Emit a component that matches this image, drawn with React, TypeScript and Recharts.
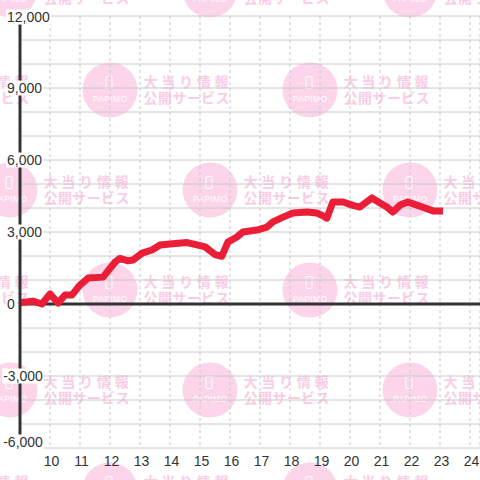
import React from "react";
import {
  LineChart,
  Line,
  XAxis,
  YAxis,
  CartesianGrid,
  ReferenceLine,
} from "recharts";

// hour of day (decimal) and ball difference at that moment
const hours = [
  9.0, 9.43, 9.73, 10.0, 10.27, 10.5, 10.73, 11.0, 11.27, 11.77, 12.17, 12.33,
  12.6, 12.77, 13.07, 13.4, 13.67, 14.0, 14.57, 14.9, 15.17, 15.5, 15.73, 15.93,
  16.23, 16.43, 16.9, 17.23, 17.43, 17.77, 18.1, 18.57, 18.9, 19.1, 19.23, 19.43,
  19.77, 20.07, 20.33, 20.73, 21.0, 21.23, 21.43, 21.67, 21.93, 22.23, 22.5,
  22.77, 23.1,
];
const balls = [
  50, 120, 0, 420, 40, 370, 370, 790, 1080, 1120, 1750, 1900, 1800, 1830, 2120,
  2250, 2460, 2500, 2560, 2460, 2380, 2060, 1990, 2580, 2790, 3000, 3080, 3200,
  3420, 3620, 3790, 3830, 3790, 3670, 3580, 4250, 4250, 4120, 4040, 4420, 4210,
  4040, 3830, 4120, 4250, 4120, 4000, 3880, 3880,
];

const xTicks = [10, 11, 12, 13, 14, 15, 16, 17, 18, 19, 20, 21, 22, 23, 24];
const yTicks = [
  -6000, -5000, -4000, -3000, -2000, -1000, 0, 1000, 2000, 3000, 4000, 5000,
  6000, 7000, 8000, 9000, 10000, 11000, 12000,
];
const labelStep = 3000;

const data = hours.map((h, i) => ({ h, v: balls[i] }));

const FONT = "'Liberation Sans', Arial, sans-serif";

function textWidth(s: string) {
  let w = 0;
  for (const ch of s) w += ch === "," ? 3.9 : ch === "-" ? 4.7 : 7.8;
  return w;
}

function YTick(props: any) {
  const { y, payload } = props;
  const v = payload.value as number;
  if (v % labelStep !== 0) return <g />;
  const label = v.toLocaleString("en-US");
  const w = textWidth(label);
  let cy = y;
  if (v === yTicks[0]) cy = y - 6;
  if (v === yTicks[yTicks.length - 1]) cy = y + 1;
  const x0 = v < 0 ? 43 - w : 7;
  return (
    <g>
      <rect x={x0 - 1} y={cy - 7.5} width={w + 2} height={15} fill="#fff" />
      <text x={x0} y={cy + 5} fontSize={14} fontFamily={FONT} fill="#333">
        {label}
      </text>
    </g>
  );
}

function XTick(props: any) {
  const { x, payload } = props;
  return (
    <text
      x={x + 1.5}
      y={466}
      textAnchor="middle"
      fontSize={14}
      fontFamily={FONT}
      fill="#333"
    >
      {payload.value}
    </text>
  );
}

function Watermark() {
  const marks: { cx: number; cy: number }[] = [];
  for (let r = 0; r < 6; r++) {
    const cy = -10 + r * 100;
    const start = r % 2 === 0 ? 10 : -90;
    for (let c = 0; c < 3; c++) marks.push({ cx: start + c * 200, cy });
  }
  return (
    <svg
      width={480}
      height={480}
      style={{ position: "absolute", left: 0, top: 0 }}
    >
      {marks.map(({ cx, cy }, i) => (
        <g key={i}>
          <circle cx={cx} cy={cy} r={27.5} fill="#fcd5ea" />
          <rect
            x={cx - 4}
            y={cy - 13.5}
            width={6}
            height={12}
            rx={1}
            fill="none"
            stroke="#fff"
            strokeWidth={1}
          />
          <text
            x={cx}
            y={cy + 11.5}
            textAnchor="middle"
            fontSize={8.5}
            fontFamily={FONT}
            fill="#fff"
            textLength={34}
            lengthAdjust="spacing"
          >
            PAPIMO
          </text>
          <text
            x={cx + 33.5}
            y={cy - 3.5}
            fontSize={14}
            fontWeight="bold"
            fontFamily="'Noto Sans CJK JP', sans-serif"
            fill="#f9cde4"
            textLength={85}
            lengthAdjust="spacing"
          >
            大当り情報
          </text>
          <text
            x={cx + 33.5}
            y={cy + 12.5}
            fontSize={14}
            fontWeight="bold"
            fontFamily="'Noto Sans CJK JP', sans-serif"
            fill="#f9cde4"
            textLength={86}
            lengthAdjust="spacing"
          >
            公開サービス
          </text>
        </g>
      ))}
    </svg>
  );
}

export default function App() {
  return (
    <div
      style={{
        position: "absolute",
        left: 0,
        top: 0,
        width: 480,
        height: 480,
        background: "#fff",
        overflow: "hidden",
      }}
    >
      <Watermark />
      <div style={{ position: "absolute", left: 0, top: 0 }}>
        <LineChart
          width={480}
          height={480}
          data={data}
          margin={{ top: 16, right: 0, bottom: 0, left: 0 }}
        >
          <CartesianGrid horizontal vertical={false} stroke="#cacaca" />
          <CartesianGrid
            horizontal={false}
            vertical
            stroke="#c8c8c8"
            strokeDasharray="3 3"
          />
          <XAxis
            dataKey="h"
            type="number"
            domain={[9, 24.3333]}
            ticks={xTicks}
            interval={0}
            height={32}
            axisLine={false}
            tickLine={false}
            tick={(p: any) => <XTick {...p} />}
          />
          <YAxis
            type="number"
            domain={[-6000, 12000]}
            ticks={yTicks}
            interval={0}
            width={20}
            tickLine={false}
            axisLine={{ stroke: "#333", strokeWidth: 3 }}
            tick={(p: any) => <YTick {...p} />}
          />
          <ReferenceLine y={0} stroke="#333" strokeWidth={3} />
          <Line
            type="linear"
            dataKey="v"
            stroke="#eb1e37"
            strokeWidth={7}
            strokeLinejoin="round"
            dot={false}
            activeDot={false}
            isAnimationActive={false}
          />
        </LineChart>
      </div>
    </div>
  );
}
